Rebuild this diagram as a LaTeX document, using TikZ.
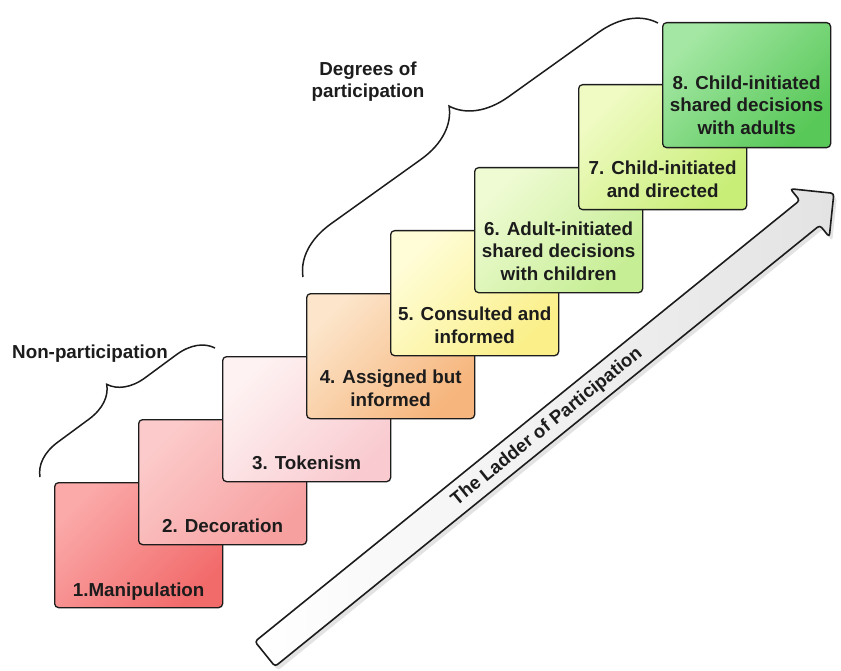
\documentclass[tikz,border=0pt]{standalone}
\usepackage{fontspec}
\setmainfont{Liberation Sans}
\usetikzlibrary{decorations.pathreplacing,shadows,calc}
\definecolor{c1a}{HTML}{FBA9A9}\definecolor{c1b}{HTML}{F26B6B}
\definecolor{c2a}{HTML}{FCCACA}\definecolor{c2b}{HTML}{F7A0A0}
\definecolor{c3a}{HTML}{FEF2F2}\definecolor{c3b}{HTML}{F9CBD0}
\definecolor{c4a}{HTML}{FCE5CA}\definecolor{c4b}{HTML}{F6B57C}
\definecolor{c5a}{HTML}{FFFDD8}\definecolor{c5b}{HTML}{FAEF88}
\definecolor{c6a}{HTML}{EFFBD3}\definecolor{c6b}{HTML}{C6EE95}
\definecolor{c7a}{HTML}{F0FBC4}\definecolor{c7b}{HTML}{C9EE78}
\definecolor{c8a}{HTML}{A4E7A4}\definecolor{c8b}{HTML}{58C858}
\definecolor{ink}{HTML}{1C1C1C}
\begin{document}
\begin{tikzpicture}[x=1pt,y=-1pt,
  stepbox/.style={draw=ink, line width=1.3pt, rounded corners=4pt,
    minimum width=168pt, minimum height=125pt, anchor=north west, inner sep=0pt},
  boxtext/.style={font=\fontsize{18.8}{22.3}\selectfont\bfseries, text=ink,
    align=center, anchor=south, inner sep=0pt, text depth=0pt},
  grouplabel/.style={font=\fontsize{18.8}{22.3}\selectfont\bfseries, text=ink,
    align=center, anchor=south, inner sep=0pt, text depth=0pt},
  bracedraw/.style={draw=ink, line width=1.5pt, decorate},
  shadedbox/.style 2 args={top color=#1, bottom color=#2, shading angle=45}]
\useasboundingbox (0,0) rectangle (841,671);

% ---- big arrow
\begin{scope}[shift={(265,654)}, rotate=39]
  \coordinate (at) at (0,0);
  \coordinate (ah) at (732,0);
  \path[draw=ink, line width=1.6pt, rounded corners=3pt,
        left color=white, right color=gray!22,
        drop shadow={opacity=0.22, shadow xshift=3pt, shadow yshift=-4pt}]
    (0,-16) -- (701,-16) -- (701,-31) -- (732,0) -- (701,31) -- (701,16) -- (0,16) -- cycle;
  \node[font=\fontsize{18.5}{22}\selectfont\bfseries, text=ink, rotate=39, inner sep=0pt] (lad) at (362,1) {The Ladder of Participation};
\end{scope}

% ---- steps
\node[stepbox, shadedbox={c1a}{c1b}] (b1) at (54,482) {};
\node[boxtext] (t1) at ($(b1.south)+(0,-12)$) {1.Manipulation};
\node[stepbox, shadedbox={c2a}{c2b}] (b2) at (138,419) {};
\node[boxtext] (t2) at ($(b2.south)+(0,-13)$) {2. Decoration};
\node[stepbox, shadedbox={c3a}{c3b}] (b3) at (222,356) {};
\node[boxtext] (t3) at ($(b3.south)+(0,-13)$) {3. Tokenism};
\node[stepbox, shadedbox={c4a}{c4b}] (b4) at (306,293) {};
\node[boxtext] (t4) at ($(b4.south)+(0,-13)$) {4. Assigned but\\informed};
\node[stepbox, shadedbox={c5a}{c5b}] (b5) at (390,230) {};
\node[boxtext] (t5) at ($(b5.south)+(0,-13)$) {5. Consulted and\\informed};
\node[stepbox, shadedbox={c6a}{c6b}] (b6) at (474,167) {};
\node[boxtext] (t6) at ($(b6.south)+(0,-13)$) {6. Adult-initiated\\shared decisions\\with children};
\node[stepbox, shadedbox={c7a}{c7b}] (b7) at (578,84) {};
\node[boxtext] (t7) at ($(b7.south)+(0,-13)$) {7. Child-initiated\\and directed};
\node[stepbox, shadedbox={c8a}{c8b}] (b8) at (662,22) {};
\node[boxtext] (t8) at ($(b8.south)+(0,-14)$) {8. Child-initiated\\shared decisions\\with adults};

% ---- braces
\coordinate (n1) at (40,477);
\coordinate (n2) at (215,348);
\draw[bracedraw, decoration={brace, amplitude=35pt}] (n1) -- (n2);
\node[grouplabel] (nl) at (90,359) {Non-participation};

\coordinate (d1) at (303,277);
\coordinate (d2) at (658,23);
\draw[bracedraw, decoration={brace, amplitude=54pt}] (d1) -- (d2);
\node[grouplabel] (dl) at (368,98) {Degrees of\\participation};
\end{tikzpicture}
\end{document}
